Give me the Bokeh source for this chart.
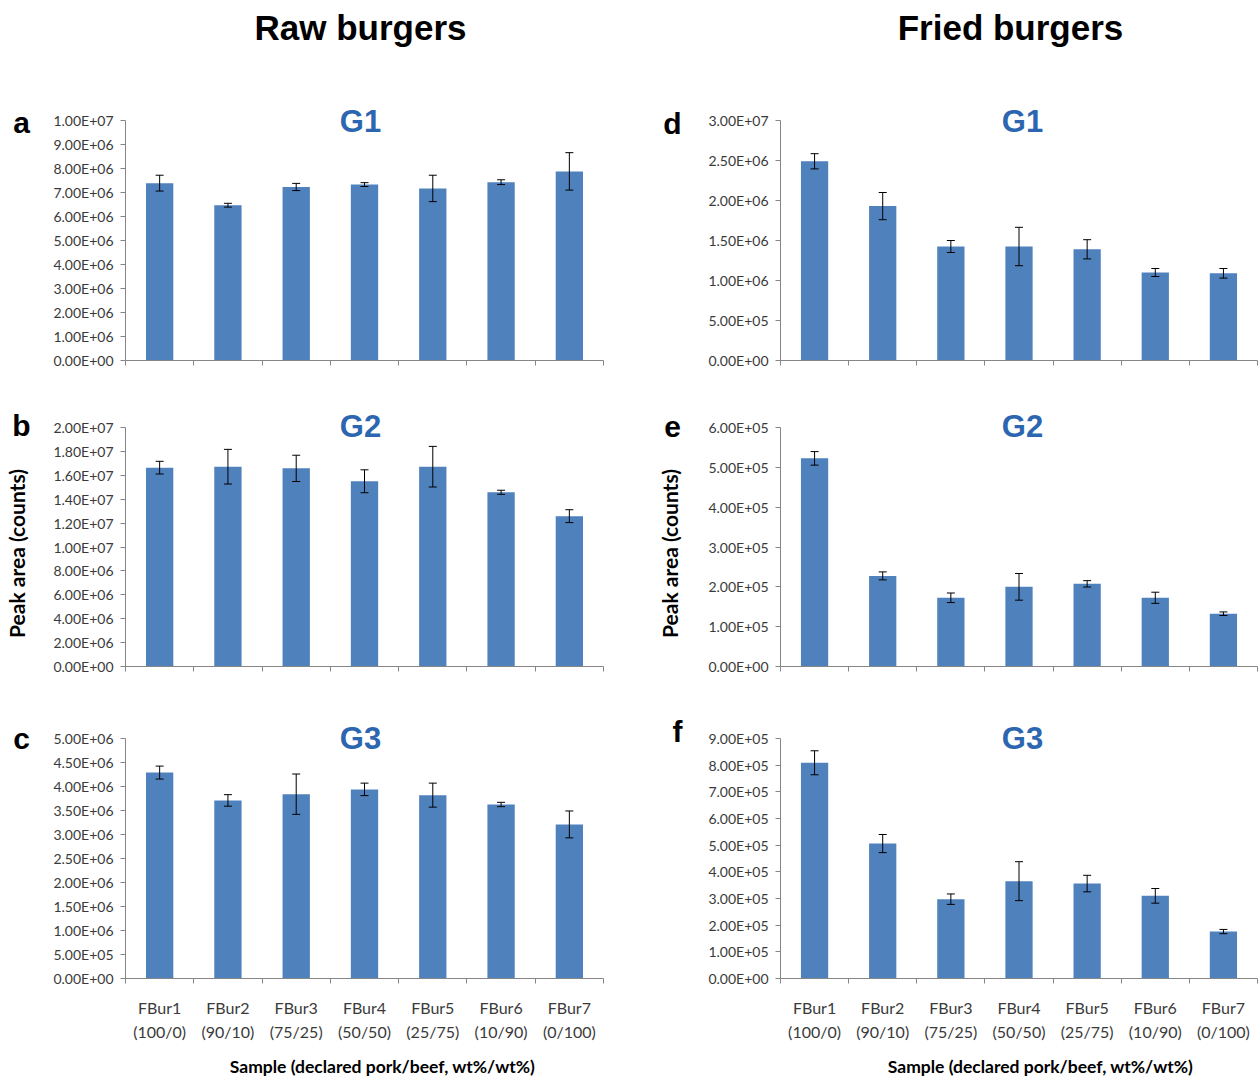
import math
from bokeh.plotting import figure
from bokeh.layouts import row, column
from bokeh.models import (ColumnDataSource, Range1d, FactorRange, LinearAxis, CategoricalAxis,
                          FixedTicker, Whisker, TeeHead, Label)
from bokeh.embed import file_html
from bokeh.resources import INLINE

# ---------------- data ----------------
samples = ["FBur1", "FBur2", "FBur3", "FBur4", "FBur5", "FBur6", "FBur7"]
ratios = ["(100/0)", "(90/10)", "(75/25)", "(50/50)", "(25/75)", "(10/90)", "(0/100)"]

raw_g1 = [7.39e6, 6.47e6, 7.23e6, 7.33e6, 7.17e6, 7.43e6, 7.88e6]
raw_g1_err = [0.33e6, 0.08e6, 0.15e6, 0.08e6, 0.55e6, 0.10e6, 0.78e6]
raw_g2 = [1.664e7, 1.672e7, 1.658e7, 1.550e7, 1.672e7, 1.458e7, 1.258e7]
raw_g2_err = [0.053e7, 0.145e7, 0.110e7, 0.096e7, 0.170e7, 0.017e7, 0.054e7]
raw_g3 = [4.29e6, 3.71e6, 3.84e6, 3.94e6, 3.82e6, 3.625e6, 3.21e6]
raw_g3_err = [0.135e6, 0.12e6, 0.42e6, 0.13e6, 0.25e6, 0.045e6, 0.28e6]

fried_g1 = [2.49e6, 1.93e6, 1.425e6, 1.425e6, 1.39e6, 1.10e6, 1.09e6]
fried_g1_err = [0.095e6, 0.17e6, 0.075e6, 0.24e6, 0.12e6, 0.05e6, 0.06e6]
fried_g2 = [5.225e5, 2.275e5, 1.725e5, 2.00e5, 2.075e5, 1.725e5, 1.325e5]
fried_g2_err = [0.17e5, 0.10e5, 0.12e5, 0.335e5, 0.08e5, 0.14e5, 0.045e5]
fried_g3 = [8.09e5, 5.06e5, 2.975e5, 3.65e5, 3.56e5, 3.10e5, 1.76e5]
fried_g3_err = [0.45e5, 0.34e5, 0.195e5, 0.73e5, 0.31e5, 0.275e5, 0.08e5]

ticks_a = [0, 1000000, 2000000, 3000000, 4000000, 5000000, 6000000, 7000000, 8000000, 9000000, 10000000]
ticks_b = [0, 2000000, 4000000, 6000000, 8000000, 10000000, 12000000, 14000000, 16000000, 18000000, 20000000]
ticks_c = [0, 500000, 1000000, 1500000, 2000000, 2500000, 3000000, 3500000, 4000000, 4500000, 5000000]
ticks_d = [0, 500000, 1000000, 1500000, 2000000, 2500000, 3000000]
ticks_e = [0, 100000, 200000, 300000, 400000, 500000, 600000]
ticks_f = [0, 100000, 200000, 300000, 400000, 500000, 600000, 700000, 800000, 900000]

labels_a = ["0.00E+00", "1.00E+06", "2.00E+06", "3.00E+06", "4.00E+06", "5.00E+06",
            "6.00E+06", "7.00E+06", "8.00E+06", "9.00E+06", "1.00E+07"]
labels_b = ["0.00E+00", "2.00E+06", "4.00E+06", "6.00E+06", "8.00E+06", "1.00E+07",
            "1.20E+07", "1.40E+07", "1.60E+07", "1.80E+07", "2.00E+07"]
labels_c = ["0.00E+00", "5.00E+05", "1.00E+06", "1.50E+06", "2.00E+06", "2.50E+06",
            "3.00E+06", "3.50E+06", "4.00E+06", "4.50E+06", "5.00E+06"]
labels_d = ["0.00E+00", "5.00E+05", "1.00E+06", "1.50E+06", "2.00E+06", "2.50E+06", "3.00E+07"]
labels_e = ["0.00E+00", "1.00E+05", "2.00E+05", "3.00E+05", "4.00E+05", "5.00E+05", "6.00E+05"]
labels_f = ["0.00E+00", "1.00E+05", "2.00E+05", "3.00E+05", "4.00E+05", "5.00E+05",
            "6.00E+05", "7.00E+05", "8.00E+05", "9.00E+05"]

col_titles = ["Raw burgers", "Fried burgers"]
groups = ["G1", "G2", "G3"]
panel_letters = ["a", "b", "c", "d", "e", "f"]
y_title = "Peak area (counts)"
x_title = "Sample (declared pork/beef, wt%/wt%)"

# ---------------- style ----------------
BAR = "#4F81BD"
AXIS = "#868686"
TXT = "#3a3a3a"
GBLUE = "#2C66B0"
TICK_FONT = "Lato"
BOLD_FONT = "Liberation Sans"
EXT = 22   # room above the top tick (inside the frame) for the G titles


def blank(width, height, top=0, bottom=0):
    """Text-only strip. Data coordinates = pixels from the top-left of the strip
    (the frame is inset by the borders that the row aligns it to)."""
    p = figure(width=width, height=height,
               x_range=Range1d(0, width), y_range=Range1d(height - bottom, top),
               output_backend="svg", toolbar_location=None,
               x_axis_location=None, y_axis_location=None, min_border=0)
    p.outline_line_color = None
    p.background_fill_color = "white"
    p.border_fill_color = "white"
    p.grid.visible = False
    return p


def add_text(p, text, x, y, size, font=BOLD_FONT, color="black", angle=0.0,
             align="center", baseline="middle", style="bold"):
    p.add_layout(Label(x=x, y=y, text=text, angle=angle, text_font=font, text_font_style=style,
                       text_font_size=size, text_color=color, text_align=align,
                       text_baseline=baseline))


def make_panel(vals, errs, ticks, labels, width, height, bl, br, bt, bb,
               gname, g_dx, g_dy, bottom=False):
    ytop = ticks[-1]
    ncat = len(samples)
    fw = width - bl - br
    fh = height - bt - bb
    p = figure(width=width, height=height,
               x_range=FactorRange(*samples), y_range=Range1d(0, ytop * (fh + EXT) / fh),
               output_backend="svg", toolbar_location=None,
               x_axis_location=None, y_axis_location=None,
               min_border_left=bl, min_border_right=br,
               min_border_top=bt - EXT, min_border_bottom=bb)
    p.outline_line_color = None
    p.grid.visible = False
    p.background_fill_color = "white"
    p.border_fill_color = "white"

    src = ColumnDataSource(dict(cat=samples, val=vals,
                                upper=[v + e for v, e in zip(vals, errs)],
                                lower=[v - e for v, e in zip(vals, errs)]))
    p.vbar(x="cat", top="val", width=0.4, source=src, fill_color=BAR, line_color=None)
    p.add_layout(Whisker(base="cat", upper="upper", lower="lower", source=src, level="overlay",
                         line_color="black", line_width=1,
                         upper_head=TeeHead(size=8, line_color="black", line_width=1),
                         lower_head=TeeHead(size=8, line_color="black", line_width=1)))

    ya = LinearAxis(ticker=FixedTicker(ticks=ticks), bounds=(0, ytop),
                    major_label_overrides={t: l for t, l in zip(ticks, labels)})
    ya.axis_line_color = AXIS
    ya.major_tick_line_color = AXIS
    ya.major_tick_out = 5
    ya.major_tick_in = 0
    ya.minor_tick_line_color = None
    ya.major_label_text_font = TICK_FONT
    ya.major_label_text_font_size = "14px"
    ya.major_label_text_color = TXT
    ya.major_label_standoff = 7
    p.add_layout(ya, "left")

    # tick marks on the category boundaries (synthetic coordinates of the factor range)
    edges = list(range(ncat + 1))
    xe = LinearAxis(ticker=FixedTicker(ticks=edges),
                    major_label_overrides={i: "" for i in edges})
    xe.axis_line_color = AXIS
    xe.major_tick_line_color = AXIS
    xe.major_tick_out = 5
    xe.major_tick_in = 0
    xe.minor_tick_line_color = None
    xe.major_label_text_font_size = "0px"
    xe.major_label_standoff = 0
    p.add_layout(xe, "below")

    if bottom:
        # first label row: the sample names (the factors themselves)
        xc = CategoricalAxis()
        # second label row: declared ratios, at the factor centres
        centres = [i + 0.5 for i in range(ncat)]
        xr = LinearAxis(ticker=FixedTicker(ticks=centres),
                        major_label_overrides={c: r for c, r in zip(centres, ratios)})
        for ax, standoff in ((xc, 8), (xr, -4)):
            ax.axis_line_color = None
            ax.major_tick_line_color = None
            ax.minor_tick_line_color = None
            ax.major_label_text_font = TICK_FONT
            ax.major_label_text_font_size = "16px"
            ax.major_label_text_color = TXT
            ax.major_label_standoff = standoff
            p.add_layout(ax, "below")

    add_text(p, gname, g_dx * ncat / fw, ytop * (1.0 - g_dy / fh), "31px", color=GBLUE)
    return p


W = 1258
LS, LW, RS, RW = 48, 592, 50, 568
LBL, LBR = 77, 37
RBL, RBR = 90, 1
HH, H1, H2, H3, HF = 78, 315, 307, 348, 31
T1, B1 = 42, 33
T2, B2 = 34, 34
T3, B3 = 38, 70

# header
head = blank(W, HH)
add_text(head, col_titles[0], 360, 27, "35px")
add_text(head, col_titles[1], 1010, 27, "35px")

# row 1
sa = blank(LS, H1, T1 - EXT, B1)
add_text(sa, panel_letters[0], 21, 44, "30px")
pa = make_panel(raw_g1, raw_g1_err, ticks_a, labels_a, LW, H1, LBL, LBR, T1, B1, groups[0], 235, 1)
sd = blank(RS, H1, T1 - EXT, B1)
add_text(sd, panel_letters[3], 32, 45, "30px")
pd_ = make_panel(fried_g1, fried_g1_err, ticks_d, labels_d, RW, H1, RBL, RBR, T1, B1, groups[0], 242, 1)

# row 2
sb = blank(LS, H2, T2 - EXT, B2)
add_text(sb, panel_letters[1], 21, 32, "30px")
add_text(sb, y_title, 16, 160, "21px", font=TICK_FONT, angle=math.pi / 2)
pb = make_panel(raw_g2, raw_g2_err, ticks_b, labels_b, LW, H2, LBL, LBR, T2, B2, groups[1], 235, -1.5)
se = blank(RS, H2, T2 - EXT, B2)
add_text(se, panel_letters[4], 32, 33, "30px")
add_text(se, y_title, 29, 160, "21px", font=TICK_FONT, angle=math.pi / 2)
pe = make_panel(fried_g2, fried_g2_err, ticks_e, labels_e, RW, H2, RBL, RBR, T2, B2, groups[1], 242, -1.5)

# row 3
sc = blank(LS, H3, T3 - EXT, B3)
add_text(sc, panel_letters[2], 21, 38, "30px")
pc = make_panel(raw_g3, raw_g3_err, ticks_c, labels_c, LW, H3, LBL, LBR, T3, B3, groups[2], 235, -0.5,
                bottom=True)
sf = blank(RS, H3, T3 - EXT, B3)
add_text(sf, panel_letters[5], 37, 31, "30px")
pf = make_panel(fried_g3, fried_g3_err, ticks_f, labels_f, RW, H3, RBL, RBR, T3, B3, groups[2], 242, -0.5,
                bottom=True)

# footer
foot = blank(W, HF)
add_text(foot, x_title, 382, 18, "17.5px", font=TICK_FONT)
add_text(foot, x_title, 1040, 18, "17.5px", font=TICK_FONT)

layout = column(head,
                row(sa, pa, sd, pd_),
                row(sb, pb, se, pe),
                row(sc, pc, sf, pf),
                foot)

open("out.html", "w").write(file_html(layout, INLINE))
